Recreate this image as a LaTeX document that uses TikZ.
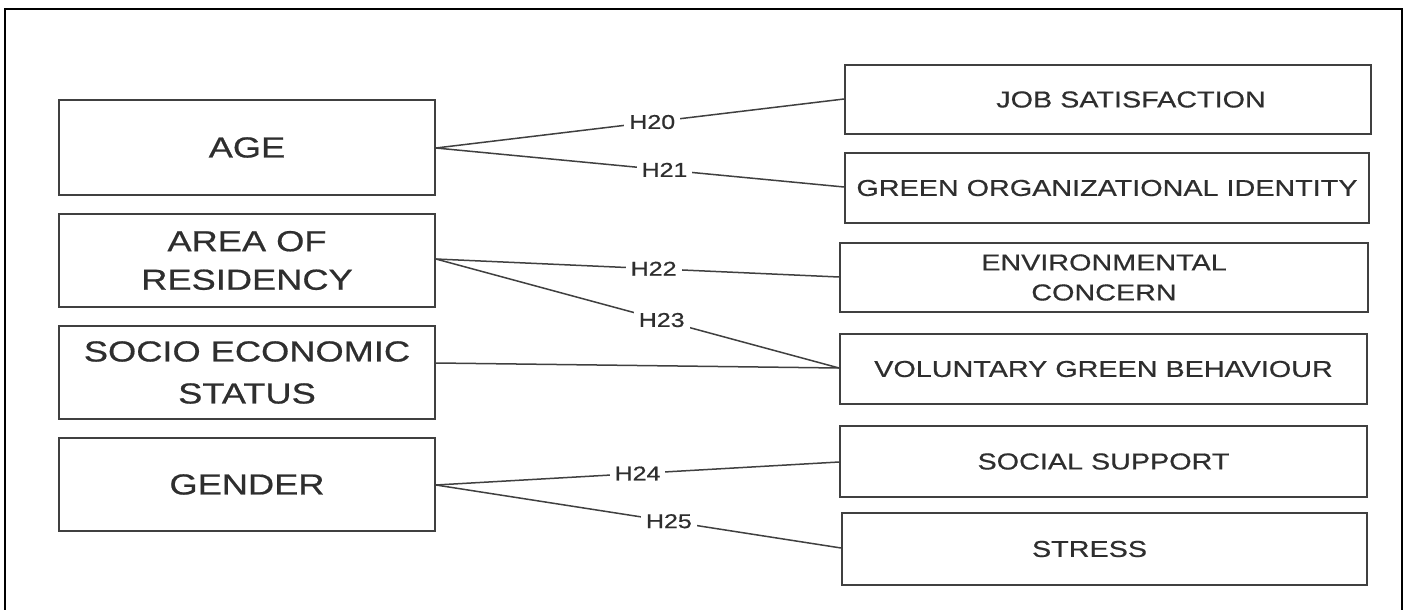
\documentclass[tikz,border=0pt]{standalone}
\usepackage{fontspec}
\newfontfamily\diafont[FakeStretch=1.25,FakeBold=0.6]{Liberation Sans}
\definecolor{boxline}{HTML}{404040}
\definecolor{txt}{HTML}{2E2E2E}
\begin{document}
\begin{tikzpicture}[x=1pt,y=-1pt,
  lbox/.style={draw=boxline, line width=1.8pt, inner sep=0pt, minimum width=376pt, text=txt, align=center,
    font=\diafont\fontsize{29}{40}\selectfont},
  rbox/.style={draw=boxline, line width=1.8pt, inner sep=0pt, text=txt, align=center,
    font=\diafont\fontsize{23}{30}\selectfont},
  link/.style={draw=boxline, line width=1.5pt},
  hlab/.style={fill=white, inner xsep=5pt, inner ysep=2pt, text=txt, font=\diafont\fontsize{20}{24}\selectfont}]
\useasboundingbox (0,0) rectangle (1408,610);
\fill[white] (0,0) rectangle (1408,610);
\draw[line width=2pt, black] (5,612) -- (5,9) -- (1402,9) -- (1402,612);
% left boxes
\node[lbox, minimum height=95pt] (age) at (247,147.5) {AGE};
\node[lbox, minimum height=93pt] (area) at (247,260.5) {AREA OF\\[-1.5pt]RESIDENCY};
\node[lbox, minimum height=93pt] (socio) at (247,372.5) {SOCIO ECONOMIC\\[2pt]STATUS};
\node[lbox, minimum height=93pt] (gender) at (247,484.5) {GENDER};
% right boxes
\node[rbox, minimum width=526pt, minimum height=69pt] (job) at (1108,99.5) {\hspace*{46pt}JOB SATISFACTION};
\node[rbox, minimum width=524pt, minimum height=70pt] (goi) at (1107,188) {GREEN ORGANIZATIONAL IDENTITY};
\node[rbox, minimum width=528pt, minimum height=69pt] (env) at (1104,277.5) {ENVIRONMENTAL\\CONCERN};
\node[rbox, minimum width=527pt, minimum height=70pt] (vgb) at (1103.5,369) {VOLUNTARY GREEN BEHAVIOUR};
\node[rbox, minimum width=527pt, minimum height=71pt] (ss) at (1103.5,461.5) {SOCIAL SUPPORT};
\node[rbox, minimum width=525pt, minimum height=72pt] (st) at (1104.5,549) {STRESS\hspace*{30pt}};
% connectors
\draw[link] ([yshift=-0.5pt]age.east) -- node[hlab, pos=0.53] {H20} ([yshift=0.5pt]job.west);
\draw[link] ([yshift=-0.5pt]age.east) -- node[hlab, pos=0.56] {H21} ([yshift=1pt]goi.west);
\draw[link] ([yshift=1.5pt]area.east) -- node[hlab, pos=0.54] {H22} ([yshift=0.5pt]env.west);
\draw[link] ([yshift=1.5pt]area.east) -- node[hlab, pos=0.56] {H23} ([yshift=1pt]vgb.west);
\draw[link] ([yshift=9.5pt]socio.east) -- ([yshift=1pt]vgb.west);
\draw[link] ([yshift=-0.5pt]gender.east) -- node[hlab, pos=0.5] {H24} ([yshift=-0.5pt]ss.west);
\draw[link] ([yshift=-0.5pt]gender.east) -- node[hlab, pos=0.575] {H25} ([yshift=1pt]st.west);
\end{tikzpicture}
\end{document}
